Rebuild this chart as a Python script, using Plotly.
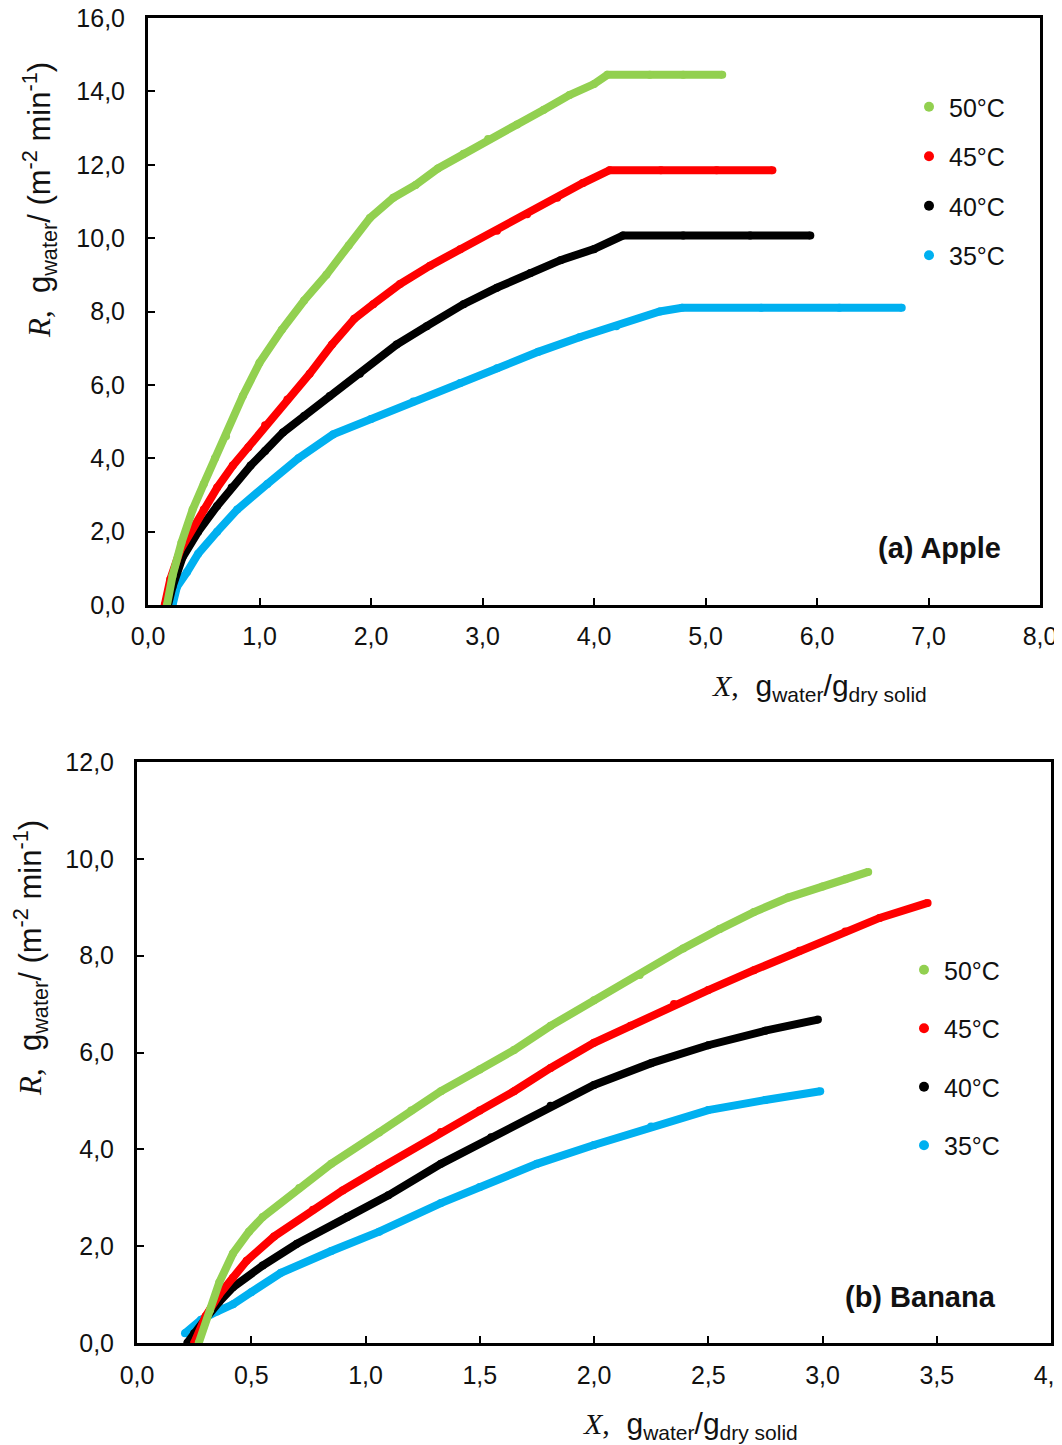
import plotly.graph_objects as go

W, H = 1062, 1445
OFF = 8                      # page body margin of the browser
FW, FH = W - OFF, H - OFF

# ---------------- data: (a) Apple ----------------
apple_50_x = [0.17, 0.22, 0.30, 0.40, 0.50, 0.60, 0.70, 0.85, 1.00, 1.20, 1.40, 1.60, 1.80, 1.99, 2.20, 2.40, 2.60, 2.83, 3.05, 3.31, 3.55, 3.78, 4.00, 4.12, 4.50, 4.80, 5.15]
apple_50_y = [0.0, 0.8, 1.7, 2.6, 3.3, 4.0, 4.6, 5.7, 6.6, 7.5, 8.3, 9.0, 9.8, 10.55, 11.1, 11.45, 11.9, 12.3, 12.7, 13.1, 13.5, 13.9, 14.2, 14.45, 14.45, 14.45, 14.45]

apple_45_x = [0.15, 0.20, 0.29, 0.40, 0.50, 0.62, 0.76, 0.90, 1.05, 1.25, 1.45, 1.65, 1.85, 2.02, 2.26, 2.53, 2.80, 3.13, 3.40, 3.67, 3.90, 4.14, 4.60, 5.10, 5.60]
apple_45_y = [0.0, 0.7, 1.5, 2.1, 2.6, 3.2, 3.8, 4.3, 4.9, 5.6, 6.3, 7.1, 7.8, 8.2, 8.75, 9.25, 9.7, 10.2, 10.65, 11.1, 11.5, 11.85, 11.85, 11.85, 11.85]

apple_40_x = [0.18, 0.22, 0.31, 0.45, 0.62, 0.75, 0.92, 1.05, 1.21, 1.40, 1.63, 1.90, 2.23, 2.50, 2.83, 3.13, 3.43, 3.70, 4.00, 4.26, 4.80, 5.40, 5.94]
apple_40_y = [0.0, 0.5, 1.3, 2.0, 2.7, 3.2, 3.8, 4.2, 4.7, 5.15, 5.7, 6.3, 7.1, 7.6, 8.2, 8.65, 9.05, 9.4, 9.7, 10.07, 10.07, 10.07, 10.07]

apple_35_x = [0.22, 0.26, 0.35, 0.45, 0.62, 0.80, 1.07, 1.35, 1.66, 2.00, 2.38, 2.80, 3.13, 3.50, 3.87, 4.20, 4.59, 4.79, 5.50, 6.20, 6.76]
apple_35_y = [0.0, 0.5, 0.9, 1.4, 2.0, 2.6, 3.3, 4.0, 4.65, 5.07, 5.55, 6.05, 6.45, 6.9, 7.3, 7.6, 8.0, 8.1, 8.1, 8.1, 8.1]

# ---------------- data: (b) Banana ----------------
banana_50_x = [0.27, 0.32, 0.36, 0.42, 0.49, 0.55, 0.71, 0.85, 1.06, 1.20, 1.33, 1.50, 1.65, 1.81, 2.00, 2.20, 2.39, 2.55, 2.70, 2.85, 3.00, 3.10, 3.20]
banana_50_y = [0.0, 0.68, 1.25, 1.85, 2.3, 2.6, 3.2, 3.7, 4.35, 4.8, 5.2, 5.65, 6.05, 6.55, 7.08, 7.6, 8.15, 8.55, 8.9, 9.2, 9.43, 9.58, 9.73]

banana_45_x = [0.25, 0.30, 0.36, 0.42, 0.48, 0.60, 0.77, 0.90, 1.06, 1.33, 1.50, 1.65, 1.81, 2.00, 2.16, 2.35, 2.50, 2.70, 2.90, 3.10, 3.25, 3.46]
banana_45_y = [0.0, 0.55, 1.0, 1.35, 1.7, 2.2, 2.75, 3.15, 3.6, 4.36, 4.8, 5.2, 5.68, 6.2, 6.55, 7.0, 7.29, 7.7, 8.1, 8.5, 8.78, 9.09]

banana_40_x = [0.22, 0.25, 0.30, 0.36, 0.42, 0.55, 0.70, 0.92, 1.10, 1.33, 1.55, 1.81, 2.00, 2.25, 2.50, 2.75, 2.98]
banana_40_y = [0.0, 0.2, 0.5, 0.85, 1.15, 1.6, 2.05, 2.6, 3.05, 3.7, 4.25, 4.9, 5.33, 5.78, 6.15, 6.45, 6.68]

banana_35_x = [0.21, 0.28, 0.35, 0.42, 0.50, 0.63, 0.85, 1.06, 1.33, 1.50, 1.75, 2.00, 2.25, 2.50, 2.75, 2.99]
banana_35_y = [0.2, 0.48, 0.65, 0.8, 1.05, 1.45, 1.9, 2.3, 2.89, 3.22, 3.7, 4.09, 4.47, 4.81, 5.02, 5.2]

series_names = ["50°C", "45°C", "40°C", "35°C"]
series_colors = ["#92D050", "#FF0000", "#000000", "#00B0F0"]

apple = [(apple_50_x, apple_50_y), (apple_45_x, apple_45_y), (apple_40_x, apple_40_y), (apple_35_x, apple_35_y)]
banana = [(banana_50_x, banana_50_y), (banana_45_x, banana_45_y), (banana_40_x, banana_40_y), (banana_35_x, banana_35_y)]


def px_x(p):
    return (p - OFF) / FW


def px_y(p):
    return 1 - (p - OFF) / FH


fig = go.Figure()

for (xs, ys), name, col in reversed(list(zip(apple, series_names, series_colors))):
    fig.add_trace(go.Scatter(x=xs, y=ys, mode="lines+markers", name=name,
                             line=dict(color=col, width=8),
                             marker=dict(color=col, size=8),
                             xaxis="x", yaxis="y", showlegend=False))
for (xs, ys), name, col in reversed(list(zip(banana, series_names, series_colors))):
    fig.add_trace(go.Scatter(x=xs, y=ys, mode="lines+markers", name=name,
                             line=dict(color=col, width=8),
                             marker=dict(color=col, size=8),
                             xaxis="x2", yaxis="y2", showlegend=False))

# legend entries (dot markers)
for i, (name, col) in enumerate(zip(series_names, series_colors)):
    fig.add_trace(go.Scatter(x=[None], y=[None], mode="markers", name=name,
                             marker=dict(color=col, size=10),
                             xaxis="x", yaxis="y", legend="legend",
                             legendgroup="a%d" % i, showlegend=True))
    fig.add_trace(go.Scatter(x=[None], y=[None], mode="markers", name=name,
                             marker=dict(color=col, size=10),
                             xaxis="x2", yaxis="y2", legend="legend2",
                             legendgroup="b%d" % i, showlegend=True))

axis_common = dict(showline=True, linecolor="black", linewidth=3, mirror=True,
                   ticks="inside", ticklen=7, tickwidth=2, tickcolor="black",
                   showgrid=False, zeroline=False, tickformat=".1f", automargin=False,
                   ticklabeloverflow="allow",
                   tickfont=dict(family="Liberation Sans, Arial", size=25, color="#111111"))

fig.update_layout(
    width=FW, height=FH,
    margin=dict(l=0, r=0, t=0, b=0, autoexpand=False),
    paper_bgcolor="white", plot_bgcolor="white",
    separators=",.",
    xaxis=dict(domain=[px_x(148), px_x(1040)], range=[0, 8], dtick=1, anchor="y",
               ticklabelstandoff=7, **axis_common),
    yaxis=dict(domain=[px_y(605), px_y(18)], range=[0, 16], dtick=2, anchor="x",
               ticklabelstandoff=15, **axis_common),
    xaxis2=dict(domain=[px_x(137), px_x(1051)], range=[0, 4], dtick=0.5, anchor="y2",
                ticklabelstandoff=8, **axis_common),
    yaxis2=dict(domain=[px_y(1343), px_y(762)], range=[0, 12], dtick=2, anchor="x2",
                ticklabelstandoff=15, **axis_common),
    legend=dict(x=px_x(909), y=px_y(84), xanchor="left", yanchor="top",
                font=dict(family="Liberation Sans, Arial", size=25, color="#111111"),
                itemwidth=30, tracegroupgap=14, bgcolor="rgba(0,0,0,0)"),
    legend2=dict(x=px_x(904), y=px_y(947), xanchor="left", yanchor="top",
                 font=dict(family="Liberation Sans, Arial", size=25, color="#111111"),
                 itemwidth=30, tracegroupgap=23, bgcolor="rgba(0,0,0,0)"),
)

serif = "font-family:'Liberation Serif', 'Times New Roman', serif"
xtitle = ("<span style=\"%s\"><i>X</i>,</span>  g<sub>water</sub>/g<sub>dry solid</sub>" % serif)
ytitle = ("<span style=\"%s\"><i>R</i>,</span>  g<sub>water</sub>/ (m<sup>-2</sup> min<sup>-1</sup>)" % serif)
xfont = dict(family="Liberation Sans, Arial", size=30, color="#111111")
yfont = dict(family="Liberation Sans, Arial", size=31, color="#111111")

annotations = [
    dict(text=xtitle, x=px_x(819), y=px_y(688), xref="paper", yref="paper",
         xanchor="center", yanchor="middle", showarrow=False, font=xfont),
    dict(text=ytitle, x=px_x(39), y=px_y(200), xref="paper", yref="paper",
         xanchor="center", yanchor="middle", showarrow=False, font=yfont, textangle=-90),
    dict(text=xtitle, x=px_x(690), y=px_y(1425), xref="paper", yref="paper",
         xanchor="center", yanchor="middle", showarrow=False, font=xfont),
    dict(text=ytitle, x=px_x(30), y=px_y(958), xref="paper", yref="paper",
         xanchor="center", yanchor="middle", showarrow=False, font=yfont, textangle=-90),
    dict(text="<b>(a) Apple</b>", x=px_x(1003), y=px_y(548), xref="paper", yref="paper",
         xanchor="right", yanchor="middle", showarrow=False,
         font=dict(family="Liberation Sans, Arial", size=29, color="#111111")),
    dict(text="<b>(b) Banana</b>", x=px_x(998), y=px_y(1297), xref="paper", yref="paper",
         xanchor="right", yanchor="middle", showarrow=False,
         font=dict(family="Liberation Sans, Arial", size=29, color="#111111")),
]
fig.update_layout(annotations=annotations)

fig.write_html("out.html")
